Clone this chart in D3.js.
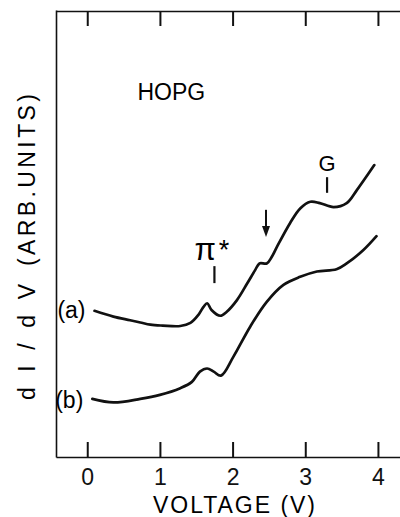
<!DOCTYPE html>
<html lang="en">
<head>
  <meta charset="UTF-8">
  <title>HOPG dI/dV</title>
  <style>
    body { margin: 0; background: #fff; }
    svg { display: block; font-family: "Liberation Sans", Arial, sans-serif; }
    .frame path { stroke: #111; stroke-width: 1.6; }
    .frame line { stroke: #111; stroke-width: 2; }
    .frame text { font-size: 23px; fill: #111; }
    .curve { fill: none; stroke: #111; stroke-width: 2.7; stroke-linejoin: round; stroke-linecap: round; }
  </style>
</head>
<body>
  <svg width="400" height="517"></svg>
  <script src="https://d3js.org/d3.v7.min.js"></script>
  <script>
// voltage (V) and dI/dV (arb. units)
const voltageA = [0.10, 0.36, 0.59, 0.73, 0.87, 1.04, 1.28, 1.42, 1.53, 1.60, 1.65, 1.71, 1.83, 1.92, 2.06, 2.20, 2.31, 2.37, 2.47, 2.54, 2.61, 2.79, 2.93, 3.07, 3.20, 3.39, 3.57, 3.71, 3.95];
const curveA   = [3.27, 3.14, 3.06, 3.01, 2.96, 2.94, 2.93, 3.00, 3.18, 3.36, 3.44, 3.29, 3.16, 3.25, 3.51, 3.88, 4.18, 4.33, 4.33, 4.48, 4.70, 5.23, 5.56, 5.71, 5.68, 5.59, 5.68, 5.97, 6.53];

const voltageB = [0.07, 0.36, 0.73, 1.00, 1.28, 1.44, 1.55, 1.65, 1.74, 1.84, 2.01, 2.24, 2.47, 2.70, 2.93, 3.16, 3.43, 3.57, 3.80, 3.98];
const curveB   = [1.30, 1.22, 1.30, 1.39, 1.54, 1.68, 1.91, 1.98, 1.91, 1.82, 2.24, 2.91, 3.47, 3.85, 4.03, 4.15, 4.20, 4.33, 4.63, 4.94];

const curveNames = ["(a)", "(b)"];
const xTicks = [0, 1, 2, 3, 4];

// feature marks: pi* and G
const markV = [1.75, 3.30];
const markTop = [4.27, 6.26];
const markBottom = [3.89, 5.91];
const markLabel = ["π", "G"];

// arrow at the shoulder
const arrowV = 2.46, arrowTop = 5.53, arrowBottom = 4.92;

const svg = d3.select("svg");

const x = d3.scaleLinear().domain([-0.43, 4.4]).range([56, 407]);
const y = d3.scaleLinear().domain([0, 10]).range([457, 10]);

// bottom axis with inward ticks
const bottom = svg.append("g")
  .attr("class", "frame")
  .attr("transform", "translate(0,457)")
  .call(d3.axisBottom(x).tickValues(xTicks).tickFormat(d3.format("d")).tickSize(-15).tickSizeOuter(0).tickPadding(11));
bottom.selectAll("text").attr("dy", "0.72em");

// top axis, ticks only
svg.append("g")
  .attr("class", "frame")
  .attr("transform", "translate(0,11)")
  .call(d3.axisTop(x).tickValues(xTicks).tickFormat("").tickSize(-15).tickSizeOuter(0));

// left axis, no ticks
svg.append("g")
  .attr("class", "frame")
  .attr("transform", "translate(56,0)")
  .call(d3.axisLeft(y).tickValues([]).tickSizeOuter(0));
svg.selectAll(".frame .domain").attr("stroke", "#111");

// axis titles
svg.append("text")
  .attr("x", 234).attr("y", 513)
  .attr("text-anchor", "middle")
  .attr("font-size", 23)
  .attr("textLength", 162).attr("lengthAdjust", "spacing")
  .text("VOLTAGE (V)");

// y title in two runs: widely spaced dI/dV, then (ARB.UNITS)
svg.append("text")
  .attr("transform", "translate(35,342) rotate(-90)")
  .attr("text-anchor", "middle")
  .attr("font-size", 23)
  .attr("textLength", 116).attr("lengthAdjust", "spacing")
  .text("dI/dV");
svg.append("text")
  .attr("transform", "translate(35,180) rotate(-90)")
  .attr("text-anchor", "middle")
  .attr("font-size", 23)
  .attr("textLength", 172).attr("lengthAdjust", "spacing")
  .text("(ARB.UNITS)");

svg.append("text")
  .attr("x", x(0.69)).attr("y", y(7.99))
  .attr("font-size", 23)
  .text("HOPG");

// curves
const line = d3.line().x(d => x(d[0])).y(d => y(d[1])).curve(d3.curveCatmullRom.alpha(0.5));
const series = [d3.zip(voltageA, curveA), d3.zip(voltageB, curveB)];

svg.selectAll(".curve")
  .data(series)
  .join("path")
  .attr("class", "curve")
  .attr("d", line);

svg.selectAll(".cname")
  .data(series)
  .join("text")
  .attr("class", "cname")
  .attr("x", d => x(d[0][0]) - 9)
  .attr("y", (d, i) => y(d[0][1]) + (i === 0 ? 7 : 9))
  .attr("text-anchor", "end")
  .attr("font-size", 23)
  .text((d, i) => curveNames[i]);

// feature tick marks
svg.selectAll(".mark")
  .data(markV)
  .join("line")
  .attr("class", "mark")
  .attr("x1", d => x(d)).attr("x2", d => x(d))
  .attr("y1", (d, i) => y(markTop[i])).attr("y2", (d, i) => y(markBottom[i]))
  .attr("stroke", "#111").attr("stroke-width", 2.2);

// pi* label
const pi = svg.append("text")
  .attr("x", x(markV[0]) - 20).attr("y", y(markTop[0]) - 6)
  .attr("font-size", 31);
pi.append("tspan").text(markLabel[0]);
pi.append("tspan").attr("dx", 3).attr("dy", -1).attr("font-size", 27).text("*");

// G label
svg.append("text")
  .attr("x", x(markV[1])).attr("y", y(markTop[1]) - 6)
  .attr("text-anchor", "middle")
  .attr("font-size", 22)
  .text(markLabel[1]);

// arrow
svg.append("line")
  .attr("x1", x(arrowV)).attr("x2", x(arrowV))
  .attr("y1", y(arrowTop)).attr("y2", y(arrowBottom) - 8)
  .attr("stroke", "#111").attr("stroke-width", 2);
svg.append("path")
  .attr("d", `M${x(arrowV) - 4},${y(arrowBottom) - 11} L${x(arrowV) + 4},${y(arrowBottom) - 11} L${x(arrowV)},${y(arrowBottom)} Z`)
  .attr("fill", "#111");
  </script>
</body>
</html>
